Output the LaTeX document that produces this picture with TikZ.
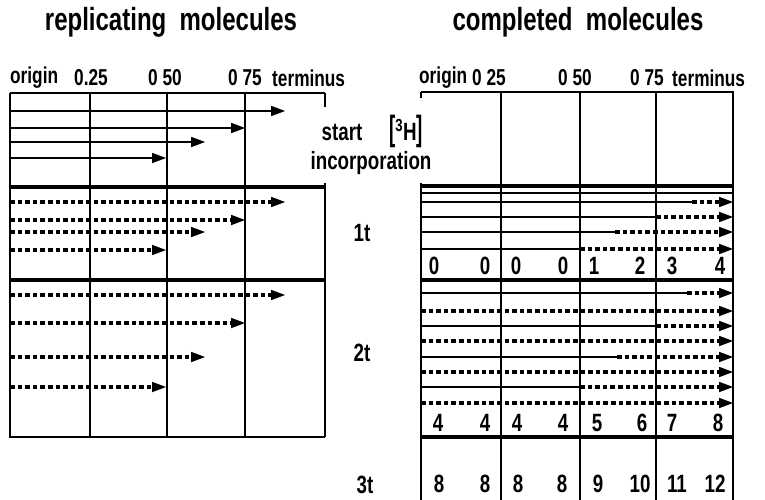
\documentclass[tikz,border=0pt]{standalone}
\usepackage{fontspec}
\setmainfont{Liberation Sans}[FakeStretch=0.75]
\usetikzlibrary{arrows.meta}
\begin{document}
\begin{tikzpicture}[x=1pt,y=-1pt,
  frame/.style={line width=2.3pt},
  sep/.style={line width=3.2pt},
  thinl/.style={line width=1.6pt},
  dots/.style={line width=4.4pt, dash pattern=on 4.6pt off 3pt},
  tipped/.style={-{Triangle[length=14pt,width=10.5pt,line width=0pt]}},
  lbl/.style={font=\fontsize{25}{28}\selectfont\bfseries, inner sep=0pt},
  hdr/.style={font=\fontsize{23}{26}\selectfont\bfseries, inner sep=0pt},
  ttl/.style={font=\fontsize{32}{36}\selectfont\bfseries, inner sep=0pt},
]
\useasboundingbox (0,0) rectangle (765,500);

% titles
\node[ttl] (t1) at (171,22) {replicating\ \ molecules};
\node[ttl] (t2) at (578,22) {completed\ \ molecules};

% header labels left
\node[hdr,anchor=west] (lo) at (10,78) {origin};
\node[hdr] (l25) at (91,78) {0.25};
\node[hdr] (l50) at (165,78) {0 50};
\node[hdr] (l75) at (245,78) {0 75};
\node[hdr,anchor=west] (lt) at (272,78) {terminus};
% header labels right
\node[hdr,anchor=west] (ro) at (419,78) {origin};
\node[hdr] (r25) at (489,78) {0 25};
\node[hdr] (r50) at (575,78) {0 50};
\node[hdr] (r75) at (647,78) {0 75};
\node[hdr,anchor=west] (rt) at (672,78) {terminus};

% middle labels
\node[lbl] (st) at (342,132) {start};
\node[lbl] (h3) at (406,131) {\scalebox{1}[1.4]{[}\textsuperscript{3}H\scalebox{1}[1.4]{]}};
\node[lbl] (inc) at (371,163) {incorporation};
\node[lbl] (t1t) at (362,233) {1t};
\node[lbl] (t2t) at (362,353) {2t};
\node[lbl] (t3t) at (365,485) {3t};

% ---------- left panel ----------
\draw[frame] (10,93) -- (325,93);
\draw[frame] (10,93) -- (10,437) -- (325,437);
\draw[frame] (325,93) -- (325,107);
\draw[frame] (325,183) -- (325,437);
\foreach \x in {90,167,245} \draw[frame] (\x,93) -- (\x,437);
\draw[sep] (10,187) -- (325,187);
\draw[sep] (10,280) -- (325,280);

\foreach \y/\x in {111/285,128/245,142/205,158/166}
  \draw[thinl,tipped] (10,\y) -- (\x,\y);
\foreach \y/\x in {202/285,220/245,232/205,250/166}
  \draw[dots,tipped] (10,\y) -- (\x,\y);
\foreach \y/\x in {295/285,323/245,357/205,387/166}
  \draw[dots,tipped] (10,\y) -- (\x,\y);

% ---------- right panel ----------
\draw[frame] (421,92) -- (733,92) -- (733,500);
\draw[frame] (421,92) -- (421,98);
\draw[frame] (421,183) -- (421,500);
\foreach \x in {501,580,656} \draw[frame] (\x,92) -- (\x,500);
\draw[sep] (421,186) -- (733,186);
\draw[thinl] (421,193) -- (733,193);
\foreach \y/\x in {202/692,217/656,232/615,249/580}{
  \draw[thinl] (421,\y) -- (\x,\y);
  \draw[dots,tipped] (\x,\y) -- (733,\y);
}
\draw[sep] (421,280) -- (733,280);
\foreach \y/\x in {293/687,326/656,357/617,387/580}{
  \draw[thinl] (421,\y) -- (\x,\y);
  \draw[dots,tipped] (\x,\y) -- (733,\y);
}
\foreach \y in {311,341,372,403}
  \draw[dots,tipped] (421,\y) -- (733,\y);
\draw[sep] (421,437) -- (733,437);

% numbers
\foreach \x/\n [count=\i] in {434/0,485/0,516/0,563/0,594/1,640/2,672/3,720/4}
  \node[lbl] (na\i) at (\x,266) {\n};
\foreach \x/\n [count=\i] in {438/4,485/4,517/4,563/4,597/5,642/6,672/7,718/8}
  \node[lbl] (nb\i) at (\x,423) {\n};
\foreach \x/\n [count=\i] in {439/8,485/8,518/8,562/8,598/9,640/10,677/11,715/12}
  \node[lbl] (nc\i) at (\x,484) {\n};
\end{tikzpicture}
\end{document}
